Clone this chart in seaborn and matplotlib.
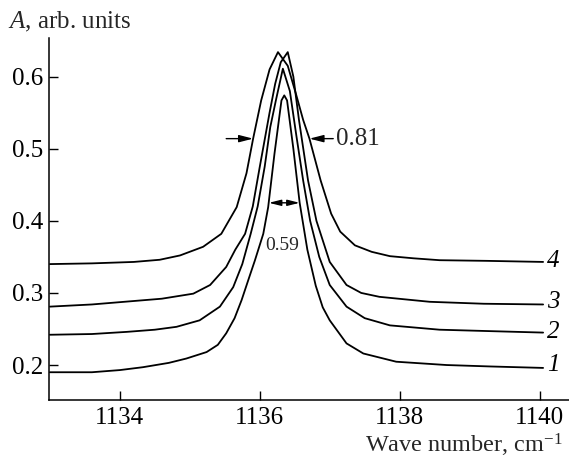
import matplotlib
matplotlib.use("Agg")
import matplotlib.pyplot as plt
import seaborn as sns
import pandas as pd

# ---- data ----
x1 = [1133.0, 1133.6, 1134.0, 1134.33, 1134.7, 1134.95, 1135.24, 1135.4, 1135.52, 1135.64,
      1135.74, 1135.85, 1135.93, 1136.05, 1136.12, 1136.21, 1136.31, 1136.35, 1136.39, 1136.48,
      1136.57, 1136.68, 1136.8, 1136.9, 1137.0, 1137.24, 1137.48, 1137.95, 1138.67, 1139.3, 1140.05]
y1 = [0.190, 0.190, 0.193, 0.197, 0.203, 0.209, 0.218, 0.228, 0.244, 0.265,
      0.290, 0.322, 0.345, 0.382, 0.419, 0.493, 0.567, 0.574, 0.567, 0.500,
      0.425, 0.360, 0.310, 0.280, 0.262, 0.230, 0.216, 0.2046, 0.200, 0.198, 0.196]

x2 = [1133.0, 1133.6, 1134.1, 1134.5, 1134.81, 1135.14, 1135.43, 1135.62, 1135.75, 1135.87,
      1135.97, 1136.07, 1136.15, 1136.23, 1136.33, 1136.43, 1136.52, 1136.62, 1136.72, 1136.85,
      1137.0, 1137.24, 1137.5, 1137.86, 1138.57, 1139.3, 1140.05]
y2 = [0.242, 0.243, 0.246, 0.249, 0.253, 0.262, 0.281, 0.308, 0.340, 0.382,
      0.420, 0.475, 0.530, 0.567, 0.611, 0.580, 0.520, 0.456, 0.400, 0.350,
      0.311, 0.281, 0.265, 0.255, 0.249, 0.247, 0.245]

x3 = [1133.0, 1133.6, 1134.1, 1134.6, 1135.05, 1135.29, 1135.52, 1135.65, 1135.79, 1135.9,
      1136.0, 1136.14, 1136.22, 1136.3, 1136.40, 1136.48, 1136.56, 1136.69, 1136.81, 1137.0,
      1137.24, 1137.45, 1137.71, 1138.43, 1139.2, 1140.05]
y3 = [0.281, 0.284, 0.288, 0.292, 0.299, 0.311, 0.336, 0.360, 0.382, 0.420,
      0.475, 0.550, 0.590, 0.620, 0.634, 0.600, 0.540, 0.456, 0.400, 0.343,
      0.311, 0.300, 0.2946, 0.2877, 0.285, 0.284]

x4 = [1133.0, 1133.6, 1134.2, 1134.57, 1134.86, 1135.19, 1135.45, 1135.67, 1135.81, 1135.905,
      1136.02, 1136.14, 1136.26, 1136.4, 1136.52, 1136.62, 1136.71, 1136.87, 1137.02, 1137.15,
      1137.36, 1137.6, 1137.86, 1138.2, 1138.57, 1139.24, 1140.05]
y4 = [0.340, 0.341, 0.343, 0.346, 0.352, 0.364, 0.382, 0.419, 0.466, 0.514,
      0.567, 0.610, 0.634, 0.615, 0.575, 0.540, 0.514, 0.456, 0.410, 0.385,
      0.366, 0.357, 0.351, 0.348, 0.3454, 0.3445, 0.343]

curve_labels = ["1", "2", "3", "4"]
label_y = [0.200, 0.2454, 0.2870, 0.3445]
x_ticks = [1134, 1136, 1138, 1140]
y_ticks = [0.2, 0.3, 0.4, 0.5, 0.6]
fwhm_wide = "0.81"
fwhm_narrow = "0.59"

frames = []
for lab, xs, ys in zip(curve_labels, [x1, x2, x3, x4], [y1, y2, y3, y4]):
    frames.append(pd.DataFrame({"x": xs, "y": ys, "curve": lab}))
df = pd.concat(frames, ignore_index=True)

sns.set_theme(style="ticks")
plt.rcParams["font.family"] = ["Liberation Serif", "DejaVu Serif"]
plt.rcParams["mathtext.fontset"] = "custom"
plt.rcParams["mathtext.rm"] = "Liberation Serif"
plt.rcParams["mathtext.it"] = "Liberation Serif:italic"

fig = plt.figure(figsize=(5.69, 4.58), dpi=100)
ax = fig.add_axes([48.5 / 569, 58 / 458, (569 - 48.5) / 569, (400 - 37.7) / 458])

for lab in curve_labels:
    sub = df[df["curve"] == lab]
    sns.lineplot(data=sub, x="x", y="y", ax=ax, color="black", linewidth=1.3,
                 estimator=None, sort=False, legend=False)

ax.set_xlim(1132.98, 1140.42)
ax.set_ylim(0.1515, 0.654)
ax.set_xticks(x_ticks)
ax.set_xticklabels([str(t) for t in x_ticks])
ax.set_yticks(y_ticks)
ax.set_yticklabels([f"{t:.1f}" for t in y_ticks])
ax.tick_params(axis="both", direction="in", length=6.5, width=1.0, labelsize=18,
               color="black", labelcolor="black")
ax.tick_params(axis="x", pad=5)
ax.tick_params(axis="y", pad=4)
ax.set_xlabel("")
ax.set_ylabel("")
sns.despine(ax=ax, top=True, right=True)
for s in ["left", "bottom"]:
    ax.spines[s].set_linewidth(1.1)
    ax.spines[s].set_color("black")
ax.set_facecolor("white")
fig.patch.set_facecolor("white")

# curve number labels
for lab, ly in zip(curve_labels, label_y):
    ax.text(1140.19, ly, lab, fontsize=18, style="italic", ha="center", va="center",
            color="black")

# width annotations
aprops = dict(arrowstyle="-|>,head_length=0.7,head_width=0.18", color="black",
              lw=1.0, shrinkA=0, shrinkB=0)
ax.annotate("", xy=(1135.905, 0.514), xytext=(1135.52, 0.514), arrowprops=aprops)
ax.annotate("", xy=(1136.71, 0.514), xytext=(1137.05, 0.514), arrowprops=aprops)
ax.text(1137.09, 0.513, fwhm_wide, fontsize=18, ha="left", va="center")

dprops = dict(arrowstyle="<|-|>,head_length=0.6,head_width=0.15", color="black",
              lw=1.0, shrinkA=0, shrinkB=0)
ax.annotate("", xy=(1136.57, 0.425), xytext=(1136.13, 0.425), arrowprops=dprops)
ax.text(1136.32, 0.366, fwhm_narrow, fontsize=14, ha="center", va="center")

# axis titles
fig.text(8 / 569, 1 - 22 / 458, r"$\mathit{A}$, arb. units", fontsize=18,
         ha="left", va="center")
fig.text(563 / 569, 5.5 / 458, r"Wave number, cm$^{-1}$", fontsize=17.5,
         ha="right", va="baseline")

fig.savefig("out.png", dpi=100, facecolor="white")
